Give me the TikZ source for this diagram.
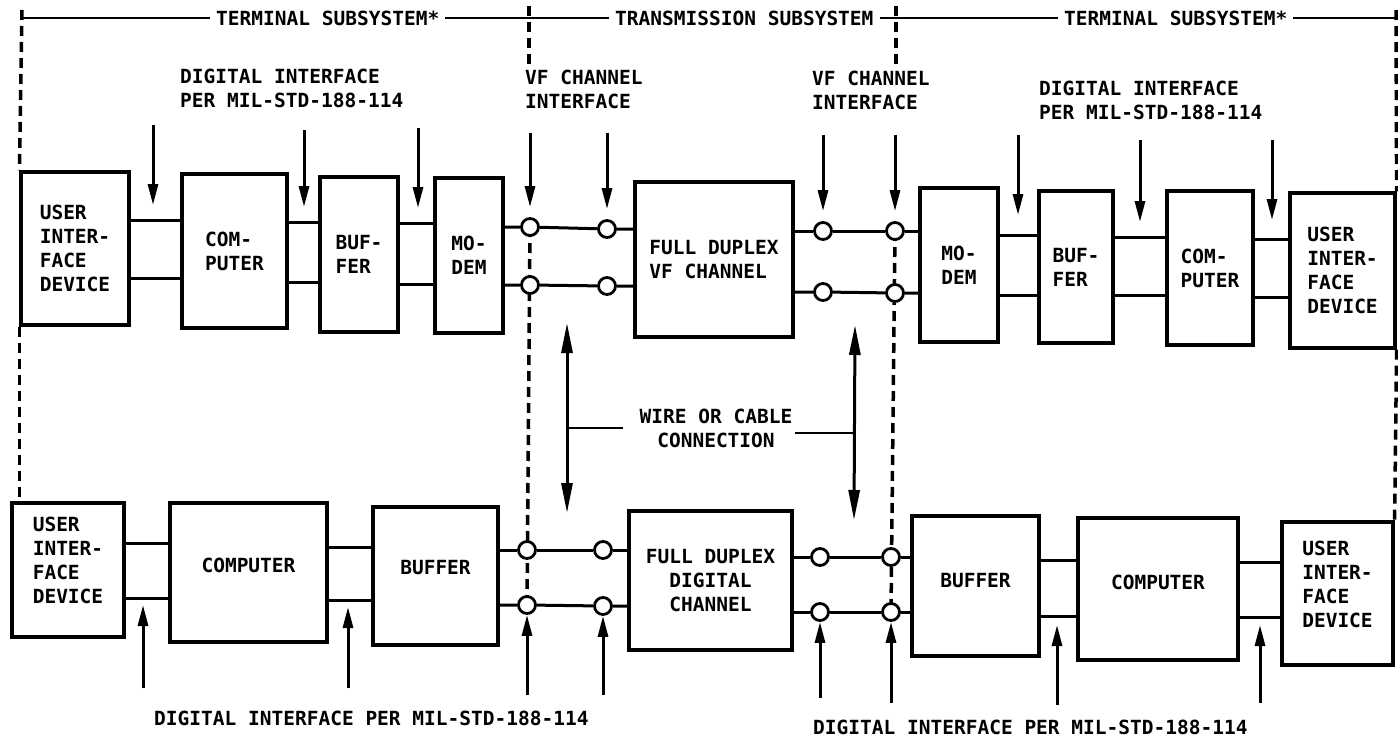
\documentclass[tikz,border=0pt]{standalone}
\usepackage{fontspec}
\setmainfont{DejaVu Sans Mono}
\usetikzlibrary{arrows.meta}
\begin{document}
\begin{tikzpicture}[x=1pt,y=-1pt,
  lbl/.style={font=\fontsize{19.5}{24}\selectfont\bfseries,inner sep=0pt,align=left},
  box/.style={draw,line width=3.2pt,inner sep=0pt,lbl},
  wire/.style={line width=3pt},
  arr/.style={line width=3pt,-{Triangle[length=21pt,width=10pt]}},
  darr/.style={line width=3pt,{Triangle[length=30pt,width=11pt]}-{Triangle[length=30pt,width=11pt]}},
  divider/.style={line width=3.5pt,dash pattern=on 10pt off 6pt},
  port/.style={circle,draw,line width=2.8pt,fill=white,minimum size=17pt,inner sep=0pt},
  leader/.style={line width=1.6pt},
  bracket/.style={line width=2pt},
  toplbl/.style={lbl,inner xsep=6pt,anchor=west}]
\useasboundingbox (0,0) rectangle (1398,750);

% ---------- top row boxes
\node[box,minimum width=108pt,minimum height=153pt] (uL) at (75,248.5) {USER\\INTER-\\FACE\\DEVICE};
\node[box,minimum width=105pt,minimum height=154pt] (cL) at (234.5,251) {COM-\\PUTER};
\node[box,minimum width=78pt,minimum height=155pt] (bL) at (359,254.5) {BUF-\\FER};
\node[box,minimum width=68pt,minimum height=155pt] (mL) at (469,255.5) {MO-\\DEM};
\node[box,minimum width=158pt,minimum height=155pt] (vf) at (714,259.5) {FULL DUPLEX\\VF CHANNEL};
\node[box,minimum width=78pt,minimum height=154pt] (mR) at (959,265) {MO-\\DEM};
\node[box,minimum width=74pt,minimum height=152pt] (bR) at (1076,267) {BUF-\\FER};
\node[box,minimum width=86pt,minimum height=154pt] (cR) at (1210,268) {COM-\\PUTER};
\node[box,minimum width=105pt,minimum height=155pt] (uR) at (1342.5,270.5) {USER\\INTER-\\FACE\\DEVICE};

% ---------- bottom row boxes
\node[box,minimum width=112pt,minimum height=134pt,text depth=20pt] (UL) at (68,570) {USER\\INTER-\\FACE\\DEVICE};
\node[box,minimum width=157pt,minimum height=139pt,text depth=15pt] (CL) at (248.5,572.5) {COMPUTER};
\node[box,minimum width=125pt,minimum height=138pt,text depth=18pt] (BL) at (435.5,576) {BUFFER};
\node[box,minimum width=163pt,minimum height=139pt,align=center] (DG) at (710.5,580.5) {FULL DUPLEX\\DIGITAL\\CHANNEL};
\node[box,minimum width=127pt,minimum height=140pt,text depth=12pt] (BR) at (975.5,586) {BUFFER};
\node[box,minimum width=160pt,minimum height=142pt,text depth=14pt] (CR) at (1158,589) {COMPUTER};
\node[box,minimum width=111pt,minimum height=143pt,text depth=18pt] (UR) at (1337.5,593.5) {USER\\INTER-\\FACE\\DEVICE};

% ---------- divider coordinates
\coordinate (dL0) at (22,10);
\coordinate (dM0) at (529,6);  \coordinate (dM1) at (529,66);
\coordinate (dN0) at (896,6);  \coordinate (dN1) at (896,66);
\coordinate (dR0) at (1396,10);

% ---------- ports (positions)
\coordinate (pA1c) at (530,227); \coordinate (pB1c) at (607,229);
\coordinate (pC1c) at (823,231); \coordinate (pD1c) at (895,231);
\coordinate (pA2c) at (530,285); \coordinate (pB2c) at (607,286);
\coordinate (pC2c) at (823,292); \coordinate (pD2c) at (895,293);
\coordinate (qA1c) at (527,550); \coordinate (qB1c) at (603,550);
\coordinate (qC1c) at (820,557); \coordinate (qD1c) at (891,557);
\coordinate (qA2c) at (527,605); \coordinate (qB2c) at (603,606);
\coordinate (qC2c) at (820,612); \coordinate (qD2c) at (891,612);

% ---------- dashed dividers (behind ports)
\draw[divider] (dL0) -- (uL.north west);
\draw[divider] (uL.south west) -- (uL.south west |- UL.north);
\draw[divider] (dM0) -- (dM1);
\draw[divider] (pA1c) -- (qA2c);
\draw[divider] (dN0) -- (dN1);
\draw[divider] (pD1c) -- (qD2c);
\draw[divider] (dR0) -- (uR.north east);
\draw[divider] (uR.south east) -- (UR.north east);

% ---------- ports
\foreach \p in {pA1,pB1,pC1,pD1,pA2,pB2,pC2,pD2,qA1,qB1,qC1,qD1,qA2,qB2,qC2,qD2}
  \node[port] (\p) at (\p c) {};

% ---------- top row connectors
\draw[wire] (uL.east |- 0,220) -- (cL.west |- 0,220);
\draw[wire] (uL.east |- 0,278) -- (cL.west |- 0,278);
\draw[wire] (cL.east |- 0,222) -- (bL.west |- 0,222);
\draw[wire] (cL.east |- 0,282) -- (bL.west |- 0,282);
\draw[wire] (bL.east |- 0,223) -- (mL.west |- 0,223);
\draw[wire] (bL.east |- 0,284) -- (mL.west |- 0,284);
\draw[wire] (mL.east |- pA1) -- (pA1) -- (pB1) -- (vf.west |- pB1);
\draw[wire] (mL.east |- pA2) -- (pA2) -- (pB2) -- (vf.west |- pB2);
\draw[wire] (vf.east |- pC1) -- (pC1) -- (pD1) -- (mR.west |- pD1);
\draw[wire] (vf.east |- pC2) -- (pC2) -- (pD2) -- (mR.west |- pD2);
\draw[wire] (mR.east |- 0,235) -- (bR.west |- 0,235);
\draw[wire] (mR.east |- 0,295) -- (bR.west |- 0,295);
\draw[wire] (bR.east |- 0,237) -- (cR.west |- 0,237);
\draw[wire] (bR.east |- 0,295) -- (cR.west |- 0,295);
\draw[wire] (cR.east |- 0,239) -- (uR.west |- 0,239);
\draw[wire] (cR.east |- 0,297) -- (uR.west |- 0,297);

% ---------- bottom row connectors
\draw[wire] (UL.east |- 0,543) -- (CL.west |- 0,543);
\draw[wire] (UL.east |- 0,598) -- (CL.west |- 0,598);
\draw[wire] (CL.east |- 0,547) -- (BL.west |- 0,547);
\draw[wire] (CL.east |- 0,600) -- (BL.west |- 0,600);
\draw[wire] (BL.east |- qA1) -- (qA1) -- (qB1) -- (DG.west |- qB1);
\draw[wire] (BL.east |- qA2) -- (qA2) -- (qB2) -- (DG.west |- qB2);
\draw[wire] (DG.east |- qC1) -- (qC1) -- (qD1) -- (BR.west |- qD1);
\draw[wire] (DG.east |- qC2) -- (qC2) -- (qD2) -- (BR.west |- qD2);
\draw[wire] (BR.east |- 0,560) -- (CR.west |- 0,560);
\draw[wire] (BR.east |- 0,616) -- (CR.west |- 0,616);
\draw[wire] (CR.east |- 0,562) -- (UR.west |- 0,562);
\draw[wire] (CR.east |- 0,617) -- (UR.west |- 0,617);

% ---------- top bracket
\node[toplbl] (t1) at (210,18) {TERMINAL SUBSYSTEM*};
\node[toplbl] (t2) at (609,18) {TRANSMISSION SUBSYSTEM};
\node[toplbl] (t3) at (1058,18) {TERMINAL SUBSYSTEM*};
\coordinate (b0) at (22,18);
\coordinate (b4) at (1398,18);
\draw[bracket] (b0) -- (t1) (t1) -- (t2) (t2) -- (t3) (t3) -- (b4);

% ---------- top labels
\node[lbl,anchor=west] (dTL) at (180,88) {DIGITAL INTERFACE\\PER MIL-STD-188-114};
\node[lbl,anchor=west] (vTL) at (525,89) {VF CHANNEL\\INTERFACE};
\node[lbl,anchor=west] (vTR) at (812,90) {VF CHANNEL\\INTERFACE};
\node[lbl,anchor=west] (dTR) at (1039,100) {DIGITAL INTERFACE\\PER MIL-STD-188-114};

% ---------- top arrows
\coordinate (a1s) at (153,125);  \coordinate (a1e) at (153,205);
\coordinate (a2s) at (304,130);  \coordinate (a2e) at (304,207);
\coordinate (a3s) at (418,128);  \coordinate (a3e) at (418,208);
\coordinate (a4s) at (530,133);
\coordinate (a5s) at (607,133);
\coordinate (a6s) at (823,135);
\coordinate (a7s) at (895,135);
\coordinate (a8s) at (1018,135); \coordinate (a8e) at (1018,215);
\coordinate (a9s) at (1140,140); \coordinate (a9e) at (1140,222);
\coordinate (a10s) at (1272,140); \coordinate (a10e) at (1272,220);
\draw[arr] (a1s) -- (a1e);
\draw[arr] (a2s) -- (a2e);
\draw[arr] (a3s) -- (a3e);
\draw[arr,shorten >=10pt] (a4s) -- (pA1);
\draw[arr,shorten >=10pt] (a5s) -- (pB1);
\draw[arr,shorten >=10pt] (a6s) -- (pC1);
\draw[arr,shorten >=10pt] (a7s) -- (pD1);
\draw[arr] (a8s) -- (a8e);
\draw[arr] (a9s) -- (a9e);
\draw[arr] (a10s) -- (a10e);

% ---------- wire or cable connection
\node[lbl,align=center] (wl) at (716,428) {WIRE OR CABLE\\CONNECTION};
\coordinate (w1s) at (567,323); \coordinate (w1e) at (567,513);
\coordinate (w2s) at (855,325); \coordinate (w2e) at (854,520);
\draw[darr] (w1s) -- (w1e);
\draw[darr] (w2s) -- (w2e);
\coordinate (l1) at (623,428);
\coordinate (l2) at (795,433);
\draw[leader] (l1) -- (l1 -| w1s);
\draw[leader] (l2) -- (l2 -| w2s);

% ---------- bottom arrows
\coordinate (u1s) at (143,688);  \coordinate (u1e) at (143,605);
\coordinate (u2s) at (348,688);  \coordinate (u2e) at (348,607);
\coordinate (u3s) at (527,695);
\coordinate (u4s) at (603,695);
\coordinate (u5s) at (820,698);
\coordinate (u6s) at (891,703);
\coordinate (u7s) at (1057,705); \coordinate (u7e) at (1057,625);
\coordinate (u8s) at (1260,703); \coordinate (u8e) at (1260,625);
\draw[arr] (u1s) -- (u1e);
\draw[arr] (u2s) -- (u2e);
\draw[arr] (u3s) -- (qA2);
\draw[arr] (u4s) -- (qB2);
\draw[arr] (u5s) -- (qC2);
\draw[arr] (u6s) -- (qD2);
\draw[arr] (u7s) -- (u7e);
\draw[arr] (u8s) -- (u8e);

% ---------- bottom labels
\node[lbl,anchor=west] (dBL) at (154,718) {DIGITAL INTERFACE PER MIL-STD-188-114};
\node[lbl,anchor=west] (dBR) at (813,727) {DIGITAL INTERFACE PER MIL-STD-188-114};
\end{tikzpicture}
\end{document}
